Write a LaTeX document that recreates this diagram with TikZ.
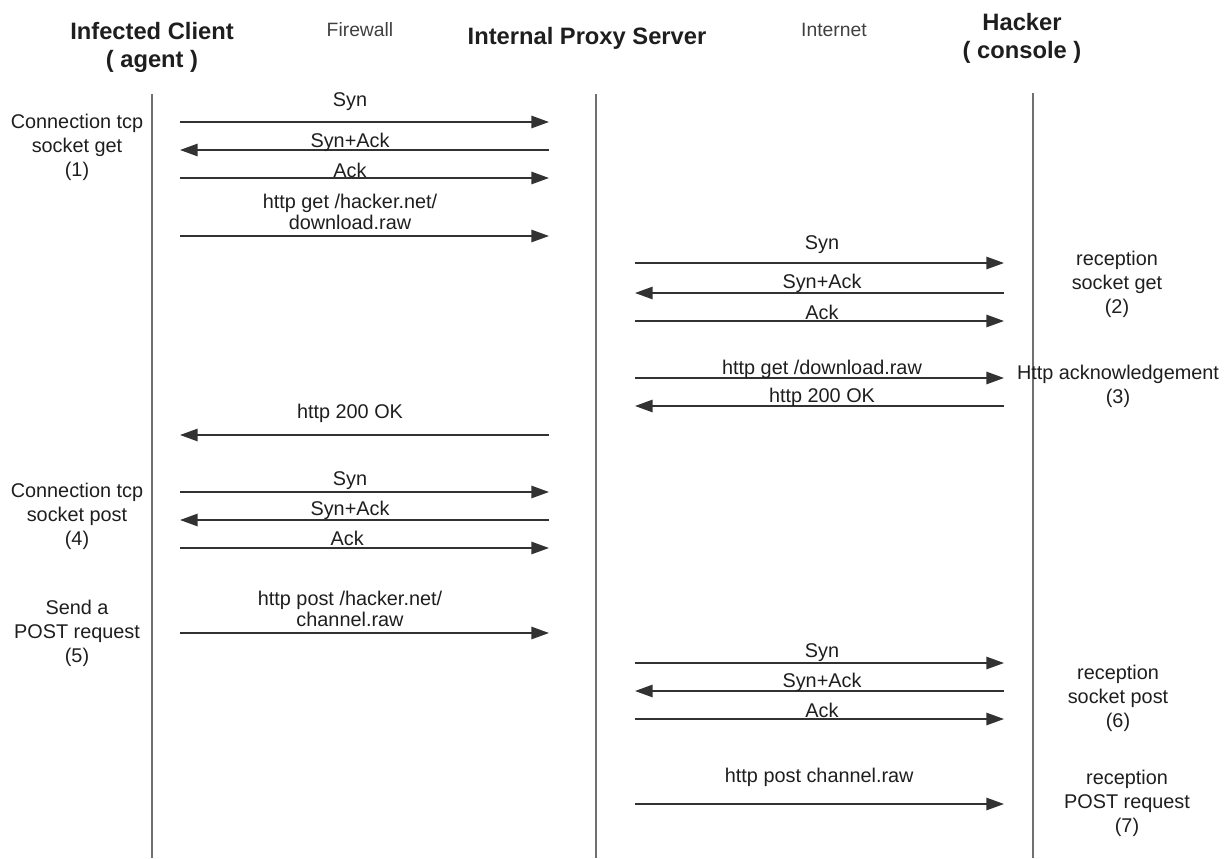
\documentclass[tikz,border=0pt]{standalone}
\usepackage{fontspec}
\setmainfont{Liberation Sans}
\usetikzlibrary{arrows.meta,positioning}
\definecolor{lifecol}{RGB}{112,112,112}
\definecolor{msgcol}{RGB}{50,50,50}
\definecolor{textcol}{RGB}{30,30,30}
\tikzset{
  head/.style={
    inner sep=0pt, align=center, text=textcol,
    font=\fontsize{13.5}{16}\selectfont\bfseries
  },
  zone/.style={inner sep=0pt, text=textcol!85, font=\fontsize{11}{13}\selectfont},
  lbl/.style={inner sep=0pt, align=center, text=textcol, font=\fontsize{11.3}{12}\selectfont},
  note/.style={inner sep=0pt, align=center, text=textcol, font=\fontsize{11.3}{13.6}\selectfont},
  lifeline/.style={line width=1.3pt, lifecol},
  msg/.style={-{Triangle[length=10pt,width=7pt]}, line width=1pt, msgcol},
}

\begin{document}
\begin{tikzpicture}[x=0.02cm, y=-0.02cm]
  \useasboundingbox (0,0) rectangle (1229,858);

  % ── Column headers ──
  \node[head] (client) at (152,47) {Infected Client\\( agent )};
  \node[zone] (fwall)  at (360,30) {Firewall};
  \node[head] (proxy)  at (587,38) {Internal Proxy Server};
  \node[zone] (inet)   at (834,30) {Internet};
  \node[head] (hacker) at (1022,38) {Hacker\\( console )};

  % ── Lifelines ──
  \coordinate (clientTop) at (152,94);  \coordinate (clientBot) at (152,858);
  \coordinate (proxyTop)  at (596,94);  \coordinate (proxyBot)  at (596,858);
  \coordinate (hackerTop) at (1033,93); \coordinate (hackerBot) at (1033,858);
  \draw[lifeline] (clientTop) -- (clientBot);
  \draw[lifeline] (proxyTop) -- (proxyBot);
  \draw[lifeline] (hackerTop) -- (hackerBot);

  % ── Client <-> proxy messages ──
  \foreach \i/\y/\xa/\xb/\off/\txt in {
    1/122/180/549/20/Syn,
    2/150/549/180/8/Syn+Ack,
    3/178/180/549/8/Ack,
    5/435/549/180/22/http 200 OK,
    6/492/180/549/11/Syn,
    7/520/549/180/10/Syn+Ack,
    8/548/180/549/10/Ack
  }{
    \coordinate (cs\i) at (\xa,\y);
    \coordinate (ce\i) at (\xb,\y);
    \draw[msg] (cs\i) -- (ce\i);
    \node[lbl] (ct\i) at (350,\y-\off) {\txt};
  }

  % two-line requests
  \coordinate (cs4) at (180,236); \coordinate (ce4) at (549,236);
  \draw[msg] (cs4) -- (ce4);
  \node[lbl] (ct4) at (350,212) {http get /hacker.net/\\download.raw};
  \coordinate (cs9) at (180,633); \coordinate (ce9) at (549,633);
  \draw[msg] (cs9) -- (ce9);
  \node[lbl] (ct9) at (350,609) {http post /hacker.net/\\channel.raw};

  % ── Proxy <-> hacker messages ──
  \foreach \i/\y/\xa/\xb/\off/\txt in {
    1/263/635/1004/18/Syn,
    2/293/1004/635/10/Syn+Ack,
    3/321/635/1004/9/Ack,
    4/378/635/1004/9/http get {/}download.raw,
    5/406/1004/635/9/http 200 OK,
    6/663/635/1004/10/Syn,
    7/691/1004/635/9/Syn+Ack,
    8/719/635/1004/9/Ack,
    9/804/635/1004/27/http post channel.raw
  }{
    \coordinate (hs\i) at (\xa,\y);
    \coordinate (he\i) at (\xb,\y);
    \draw[msg] (hs\i) -- (he\i);
    \node[lbl] (ht\i) at (822,\y-\off) {\txt};
  }

  % ── Step notes, client side ──
  \node[note] (step1) at (77,147) {Connection tcp\\socket get\\(1)};
  \node[note] (step4) at (77,516) {Connection tcp\\socket post\\(4)};
  \node[note] (step5) at (77,633) {Send a\\POST request\\(5)};

  % ── Step notes, hacker side ──
  \node[note] (step2) at (1117,284) {reception\\socket get\\(2)};
  \node[note] (step3) at (1118,386) {Http acknowledgement\\(3)};
  \node[note] (step6) at (1118,698) {reception\\socket post\\(6)};
  \node[note] (step7) at (1127,803) {reception\\POST request\\(7)};

\end{tikzpicture}
\end{document}
